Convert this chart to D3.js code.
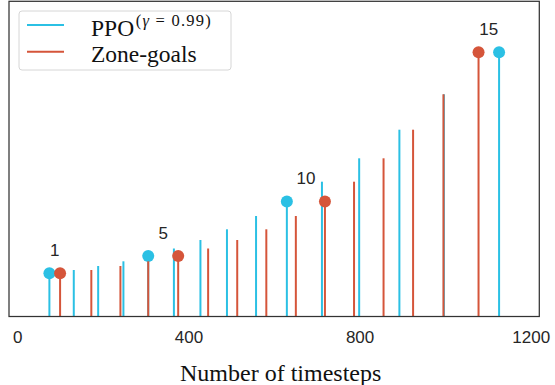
<!DOCTYPE html>
<html>
<head>
<meta charset="utf-8">
<script src="https://cdn.jsdelivr.net/npm/d3@7"></script>
<style>
  html, body { margin: 0; padding: 0; background: #fff; }
  svg { display: block; }
</style>
</head>
<body>
<svg id="chart" width="555" height="385"></svg>
<script>
// ---- data ----
const goalIndex = [1,2,3,4,5,6,7,8,9,10,11,12,13,14,15];
const ppoTimesteps  = [75, 132, 189, 248, 306, 366, 428, 490, 558, 630, 712, 799, 893, 997, 1126];
const zoneTimesteps = [100, 173, 241, 306, 376, 446, 514, 582, 651, 719, 787, 856, 925, 996, 1078];
const stemHeights   = [43.2, 46.5, 50.5, 55.2, 60.5, 68, 76.5, 87.2, 100.5, 115, 134.8, 158.2, 186.8, 222.2, 264.2];
const markedGoals = [1, 5, 10, 15];
const xTicks = [0, 400, 800, 1200];
const seriesNames = ["PPO", "Zone-goals"];
const xLabel = "Number of timesteps";

// ---- layout ----
const W = 555, H = 385;
const plot = { left: 9, right: 539.3, top: 1.3, bottom: 316.5 };
const colors = { ppo: "#2bc0e4", zone: "#d5553a" };

const svg = d3.select("#chart");

const x = d3.scaleLinear().domain([-19.4, 1220]).range([plot.left, plot.right]);
const y = d3.scaleLinear().domain([0, 315.2]).range([plot.bottom, plot.top]);

const series = [
  { key: "ppo",  color: colors.ppo,  xs: ppoTimesteps },
  { key: "zone", color: colors.zone, xs: zoneTimesteps }
];

// stems + markers
series.forEach(s => {
  const data = goalIndex.map((g, i) => ({ g, t: s.xs[i], h: stemHeights[i] }));
  const g = svg.append("g").attr("class", "series-" + s.key);
  g.selectAll("line.stem").data(data).enter().append("line")
    .attr("class", "stem")
    .attr("x1", d => x(d.t)).attr("x2", d => x(d.t))
    .attr("y1", y(0)).attr("y2", d => y(d.h))
    .attr("stroke", s.color).attr("stroke-width", 2);
  g.selectAll("circle").data(data.filter(d => markedGoals.includes(d.g))).enter().append("circle")
    .attr("cx", d => x(d.t)).attr("cy", d => y(d.h)).attr("r", 6)
    .attr("fill", s.color);
});

// goal labels
svg.append("g").selectAll("text").data(markedGoals).enter().append("text")
  .attr("x", g => x((ppoTimesteps[g-1] + zoneTimesteps[g-1]) / 2))
  .attr("y", g => y(stemHeights[g-1]) - 23)
  .attr("text-anchor", "middle")
  .attr("dominant-baseline", "central")
  .attr("font-family", "'Liberation Sans', Arial, sans-serif")
  .attr("font-size", 17)
  .attr("fill", "#262626")
  .text(g => g);

// x axis (tick labels only)
const xAxis = d3.axisBottom(x).tickValues(xTicks).tickSize(0).tickPadding(0).tickFormat(d3.format("d"));
const ax = svg.append("g").attr("transform", `translate(0,${plot.bottom})`).call(xAxis);
ax.select(".domain").remove();
ax.selectAll("text")
  .attr("y", 26.8).attr("dy", 0)
  .attr("font-family", "'Liberation Sans', Arial, sans-serif")
  .attr("font-size", 17)
  .attr("fill", "#262626");

// frame
svg.append("rect")
  .attr("x", plot.left).attr("y", plot.top)
  .attr("width", plot.right - plot.left).attr("height", plot.bottom - plot.top)
  .attr("fill", "none").attr("stroke", "#333").attr("stroke-width", 1.25);

// x label
svg.append("text")
  .attr("x", (plot.left + plot.right) / 2 + 6.5).attr("y", 381)
  .attr("text-anchor", "middle")
  .attr("font-family", "'Liberation Serif', 'Times New Roman', serif")
  .attr("font-size", 24)
  .attr("fill", "#111")
  .text(xLabel);

// legend
const lg = svg.append("g");
lg.append("rect").attr("x", 19).attr("y", 11).attr("width", 212).attr("height", 59).attr("rx", 3)
  .attr("fill", "#fff").attr("fill-opacity", 0.8).attr("stroke", "#d6d6d6").attr("stroke-width", 1);
const legendRows = [
  { color: colors.ppo,  name: seriesNames[0], ly: 25,   ty: 35.5 },
  { color: colors.zone, name: seriesNames[1], ly: 51.7, ty: 62 }
];
legendRows.forEach((r, i) => {
  lg.append("line").attr("x1", 27).attr("x2", 64).attr("y1", r.ly).attr("y2", r.ly)
    .attr("stroke", r.color).attr("stroke-width", 2);
  const t = lg.append("text").attr("x", 91).attr("y", r.ty)
    .attr("font-family", "'Liberation Serif', 'Times New Roman', serif")
    .attr("font-size", 23.5).attr("fill", "#111").text(r.name);
  if (i === 0) {
    lg.append("text").attr("x", 135.7).attr("y", 25.5)
      .attr("font-family", "'Liberation Serif', 'Times New Roman', serif")
      .attr("font-size", 16.5).attr("fill", "#111")
      .attr("textLength", 75).attr("lengthAdjust", "spacing")
      .html('(<tspan font-style="italic">γ</tspan> = 0.99)');
  }
});
</script>
</body>
</html>
